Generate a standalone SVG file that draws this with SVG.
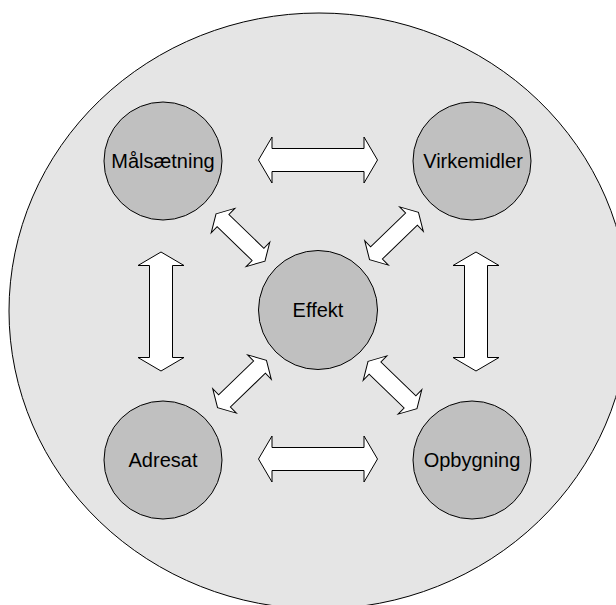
<svg xmlns="http://www.w3.org/2000/svg" width="616" height="605" viewBox="0 0 616 605">
  <style>
    .outer { fill: #e5e5e5; stroke: #000; stroke-width: 1; }
    .node { fill: #c0c0c0; stroke: #000; stroke-width: 1; }
    .label { font-family: "Liberation Sans", Arial, sans-serif; font-size: 20px; fill: #000; text-anchor: middle; }
    .arrow { fill: #fff; stroke: #000; stroke-width: 1; stroke-linejoin: miter; }
  </style>
  <defs>
    <!-- double-headed block arrows, drawn along the x axis around the origin -->
    <path id="bigArrow" d="M -59.5 0 L -46 -23 L -46 -11.5 L 46 -11.5 L 46 -23 L 59.5 0 L 46 23 L 46 11.5 L -46 11.5 L -46 23 Z"/>
    <path id="smallArrow" d="M -34 0 L -24.3 -17 L -24.3 -8.5 L 24.3 -8.5 L 24.3 -17 L 34 0 L 24.3 17 L 24.3 8.5 L -24.3 8.5 L -24.3 17 Z"/>
  </defs>

  <!-- background disc -->
  <ellipse class="outer" cx="319" cy="311" rx="310" ry="298"/>

  <g id="connectors">
    <use href="#bigArrow" class="arrow" transform="translate(318 160)"/>
    <use href="#bigArrow" class="arrow" transform="translate(318 459)"/>
    <use href="#bigArrow" class="arrow" transform="translate(161 311.5) rotate(90)"/>
    <use href="#bigArrow" class="arrow" transform="translate(476 311.5) rotate(90)"/>
    <use href="#smallArrow" class="arrow" transform="translate(240.5 237.5) rotate(44)"/>
    <use href="#smallArrow" class="arrow" transform="translate(394 236) rotate(-44)"/>
    <use href="#smallArrow" class="arrow" transform="translate(242 384) rotate(-44)"/>
    <use href="#smallArrow" class="arrow" transform="translate(392.5 385) rotate(44)"/>
  </g>

  <g id="node-maalsaetning">
    <circle class="node" cx="163" cy="161" r="59"/>
    <text class="label" x="163" y="168">Målsætning</text>
  </g>
  <g id="node-virkemidler">
    <circle class="node" cx="472" cy="161" r="59"/>
    <text class="label" x="473" y="168">Virkemidler</text>
  </g>
  <g id="node-effekt">
    <circle class="node" cx="318" cy="310" r="59.5"/>
    <text class="label" x="318" y="317">Effekt</text>
  </g>
  <g id="node-adresat">
    <circle class="node" cx="163" cy="460" r="59"/>
    <text class="label" x="163" y="467">Adresat</text>
  </g>
  <g id="node-opbygning">
    <circle class="node" cx="472" cy="460" r="59"/>
    <text class="label" x="472" y="467">Opbygning</text>
  </g>
</svg>
